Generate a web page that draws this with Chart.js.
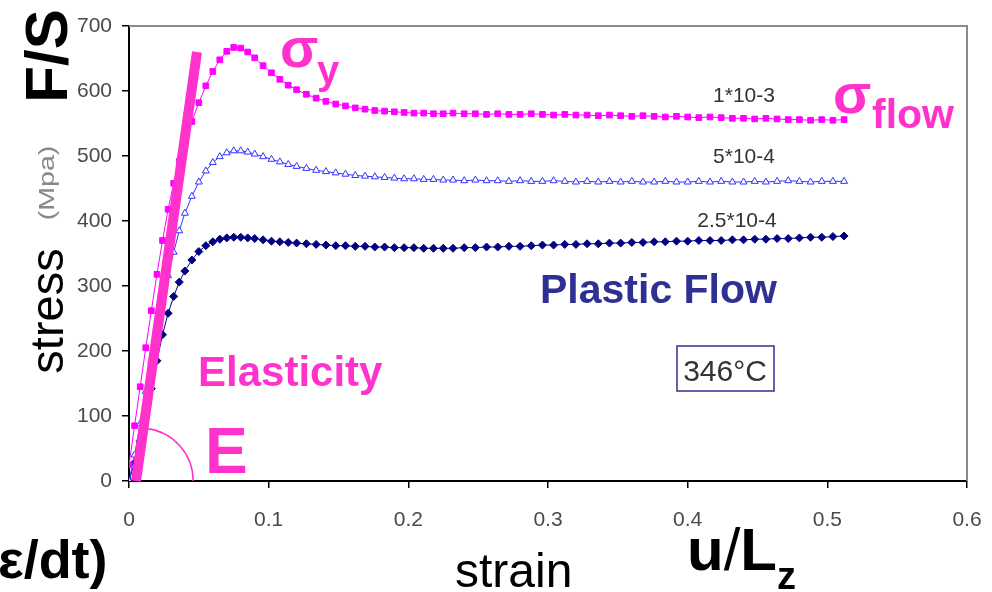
<!DOCTYPE html>
<html>
<head>
<meta charset="utf-8">
<script src="https://cdn.jsdelivr.net/npm/chart.js@4.4.0/dist/chart.umd.min.js"></script>
<style>
  html, body { margin: 0; padding: 0; background: #fff; }
  #wrap { width: 992px; height: 592px; }
</style>
</head>
<body>
<div id="wrap"><canvas id="myChart" width="992" height="592"></canvas></div>
<script>
// strain (u/Lz) shared by all three curves
const strain = [
  0, 0.004, 0.008, 0.012, 0.016, 0.020, 0.024, 0.028, 0.032, 0.036,
  0.040, 0.045, 0.050, 0.055, 0.060, 0.065, 0.070, 0.075, 0.080, 0.085,
  0.090, 0.096, 0.102, 0.108, 0.114, 0.120, 0.127, 0.134, 0.141, 0.148,
  0.155, 0.162, 0.169, 0.176, 0.183, 0.190, 0.197, 0.204, 0.211, 0.218,
  0.225, 0.232, 0.240, 0.248, 0.256, 0.264, 0.272, 0.280, 0.288, 0.296,
  0.304, 0.312, 0.320, 0.328, 0.336, 0.344, 0.352, 0.360, 0.368, 0.376,
  0.384, 0.392, 0.400, 0.408, 0.416, 0.424, 0.432, 0.440, 0.448, 0.456,
  0.464, 0.472, 0.480, 0.488, 0.496, 0.504, 0.512
];
// stress (MPa) at 1*10-3
const stressFast = [
  25, 85, 145, 205, 262, 318, 370, 418, 458, 492,
  522, 553, 582, 608, 630, 648, 661, 667, 666, 660,
  651, 639, 628, 618, 609, 602, 595, 589, 584, 580,
  577, 574, 572, 570, 569, 568, 567, 566, 566, 565,
  565, 566, 565, 565, 564, 565, 564, 564, 565, 564,
  563, 564, 563, 563, 562, 563, 562, 561, 562, 561,
  560, 561, 560, 559, 560, 559, 558, 558, 557, 558,
  557, 556, 556, 555, 556, 555, 556
];
// stress (MPa) at 5*10-4
const stressMid = [
  0, 40, 88, 138, 186, 232, 275, 316, 352, 385,
  412, 438, 460, 477, 490, 499, 505, 508, 508, 506,
  503, 499, 495, 491, 487, 484, 481, 478, 476, 474,
  472, 470, 469, 468, 467, 466, 465, 465, 464, 464,
  463, 463, 462, 463, 462, 462, 461, 462, 461, 461,
  462, 461, 460, 461, 460, 461, 460, 461, 460, 460,
  461, 460, 460, 461, 460, 461, 460, 460, 461, 460,
  461, 462, 461, 460, 461, 461, 461
];
// stress (MPa) at 2.5*10-4
const stressSlow = [
  0, 28, 62, 100, 142, 185, 225, 258, 284, 306,
  323, 340, 353, 362, 368, 372, 374, 375, 375, 374,
  373, 371, 369, 368, 367, 366, 365, 364, 363, 362,
  362, 361, 361, 360, 360, 359, 359, 359, 358, 358,
  358, 358, 359, 359, 360, 360, 361, 361, 362, 363,
  363, 364, 364, 365, 365, 366, 366, 367, 367, 368,
  368, 369, 369, 370, 370, 370, 371, 371, 372, 372,
  373, 373, 374, 375, 375, 376, 377
];
const rateLabels = ["1*10-3", "5*10-4", "2.5*10-4"];
const xTicks = [0, 0.1, 0.2, 0.3, 0.4, 0.5, 0.6];
const xTickLabels = ["0", "0.1", "0.2", "0.3", "0.4", "0.5", "0.6"];
const yTicks = [0, 100, 200, 300, 400, 500, 600, 700];
const yTickLabels = ["0", "100", "200", "300", "400", "500", "600", "700"];

const pink = "#ff33cc";
const navy = "#2e3192";
const font = "'Liberation Sans', Arial, sans-serif";

function toPoints(ys) {
  return strain.map((x, i) => ({ x: x, y: ys[i] }));
}

function rotText(ctx, text, x, y, f, color, stretch) {
  ctx.save();
  ctx.translate(x, y);
  ctx.rotate(-Math.PI / 2);
  if (stretch) ctx.scale(stretch, 1);
  ctx.font = f;
  ctx.fillStyle = color;
  ctx.textAlign = "center";
  ctx.textBaseline = "alphabetic";
  ctx.fillText(text, 0, 0);
  ctx.restore();
}

function text(ctx, t, x, y, f, color, align) {
  ctx.font = f;
  ctx.fillStyle = color;
  ctx.textAlign = align || "left";
  ctx.textBaseline = "alphabetic";
  ctx.fillText(t, x, y);
}

const annotations = {
  id: "annotations",
  afterDraw(chart) {
    const ctx = chart.ctx;
    const a = chart.chartArea;
    const xs = chart.scales.x;
    const ys = chart.scales.y;
    ctx.save();

    // gray frame top / right
    ctx.strokeStyle = "#8a8a8a";
    ctx.lineWidth = 2;
    ctx.beginPath();
    ctx.moveTo(a.left, a.top);
    ctx.lineTo(a.right, a.top);
    ctx.lineTo(a.right, a.bottom);
    ctx.stroke();

    // young modulus line
    ctx.strokeStyle = pink;
    ctx.lineWidth = 10;
    ctx.lineCap = "butt";
    ctx.beginPath();
    ctx.moveTo(xs.getPixelForValue(0.005), ys.getPixelForValue(0));
    ctx.lineTo(xs.getPixelForValue(0.0487), ys.getPixelForValue(660));
    ctx.stroke();

    // angle arc
    ctx.lineWidth = 1.5;
    ctx.beginPath();
    ctx.arc(xs.getPixelForValue(0.008), ys.getPixelForValue(0), 53, -1.44, 0);
    ctx.stroke();

    // rate labels
    text(ctx, rateLabels[0], 744, 102, "21px " + font, "#333", "center");
    text(ctx, rateLabels[1], 744, 163, "21px " + font, "#333", "center");
    text(ctx, rateLabels[2], 737, 227, "21px " + font, "#333", "center");

    // axis titles
    rotText(ctx, "F/S", 67, 56, "bold 60px " + font, "#000");
    rotText(ctx, "stress", 63, 311, "47px " + font, "#000");
    rotText(ctx, "(Mpa)", 54, 183, "22px " + font, "#888", 1.3);
    text(ctx, "strain", 455, 587, "48px " + font, "#000");

    // u/Lz
    ctx.font = "bold 60px " + font;
    let x = 687;
    text(ctx, "u", x, 570, "bold 60px " + font, "#000");
    x += ctx.measureText("u").width;
    text(ctx, "/", x, 570, "60px " + font, "#000");
    x += ctx.measureText("/").width;
    text(ctx, "L", x, 570, "bold 60px " + font, "#000");
    x += ctx.measureText("L").width;
    text(ctx, "z", x, 589, "bold 38px " + font, "#000");

    text(ctx, "\u03b5/dt)", -2, 578, "bold 54px " + font, "#000");

    // sigma labels
    text(ctx, "\u03c3", 280, 67, "bold 56px " + font, pink);
    text(ctx, "y", 317, 84, "bold 40px " + font, pink);
    text(ctx, "\u03c3", 833, 113, "bold 56px " + font, pink);
    text(ctx, "flow", 872, 128, "bold 41px " + font, pink);

    text(ctx, "Plastic Flow", 540, 303, "bold 41px " + font, navy);
    text(ctx, "Elasticity", 198, 386, "bold 42px " + font, pink);
    text(ctx, "E", 205, 473, "bold 64px " + font, pink);

    // temperature box
    ctx.strokeStyle = navy;
    ctx.lineWidth = 1.5;
    ctx.strokeRect(677, 346, 97, 45);
    text(ctx, "346\u00b0C", 725, 381, "30px " + font, "#333", "center");

    ctx.restore();
  }
};

const ctx = document.getElementById("myChart").getContext("2d");
const config = {
  type: "scatter",
  data: {
    datasets: [
      {
        label: rateLabels[0],
        data: toPoints(stressFast),
        showLine: true,
        borderColor: "#ff00ff",
        borderWidth: 1,
        pointStyle: "rect",
        pointRadius: 4,
        pointBackgroundColor: "#ff00ff",
        pointBorderColor: "#ff00ff",
        pointBorderWidth: 1,
      },
      {
        label: rateLabels[1],
        data: toPoints(stressMid),
        showLine: true,
        borderColor: "#3333ff",
        borderWidth: 1,
        pointStyle: "triangle",
        pointRadius: 4,
        pointBackgroundColor: "#ffffff",
        pointBorderColor: "#3333ff",
        pointBorderWidth: 1,
      },
      {
        label: rateLabels[2],
        data: toPoints(stressSlow),
        showLine: true,
        borderColor: "#000080",
        borderWidth: 1,
        pointStyle: "rectRot",
        pointRadius: 4,
        pointBackgroundColor: "#000080",
        pointBorderColor: "#000080",
        pointBorderWidth: 1,
      },
    ],
  },
  options: {
    responsive: false,
    animation: false,
    layout: { padding: { top: 26, right: 25, left: 0, bottom: 0 } },
    plugins: {
      legend: { display: false },
      tooltip: { enabled: false },
    },
    scales: {
      x: {
        type: "linear",
        min: 0,
        max: 0.6,
        afterBuildTicks: (s) => { s.ticks = xTicks.map((v) => ({ value: v })); },
        afterFit: (s) => { s.height = 111; s.paddingLeft = 0; s.paddingRight = 0; },
        ticks: {
          callback: (v, i) => xTickLabels[i],
          color: "#4a4a4a",
          font: { family: font, size: 21 },
          padding: 20,
          maxRotation: 0,
        },
        grid: { drawOnChartArea: false, drawTicks: true, tickLength: 7, color: "#000", lineWidth: 1.5 },
        border: { display: true, color: "#000", width: 2 },
      },
      y: {
        type: "linear",
        min: 0,
        max: 700,
        afterBuildTicks: (s) => { s.ticks = yTicks.map((v) => ({ value: v })); },
        afterFit: (s) => { s.width = 129; s.paddingTop = 0; s.paddingBottom = 0; },
        ticks: {
          callback: (v, i) => yTickLabels[i],
          color: "#4a4a4a",
          font: { family: font, size: 21 },
          padding: 10,
        },
        grid: { drawOnChartArea: false, drawTicks: true, tickLength: 7, color: "#000", lineWidth: 1.5 },
        border: { display: true, color: "#000", width: 2 },
      },
    },
  },
  plugins: [annotations],
};
const myChart = new Chart(ctx, config);
</script>
</body>
</html>
